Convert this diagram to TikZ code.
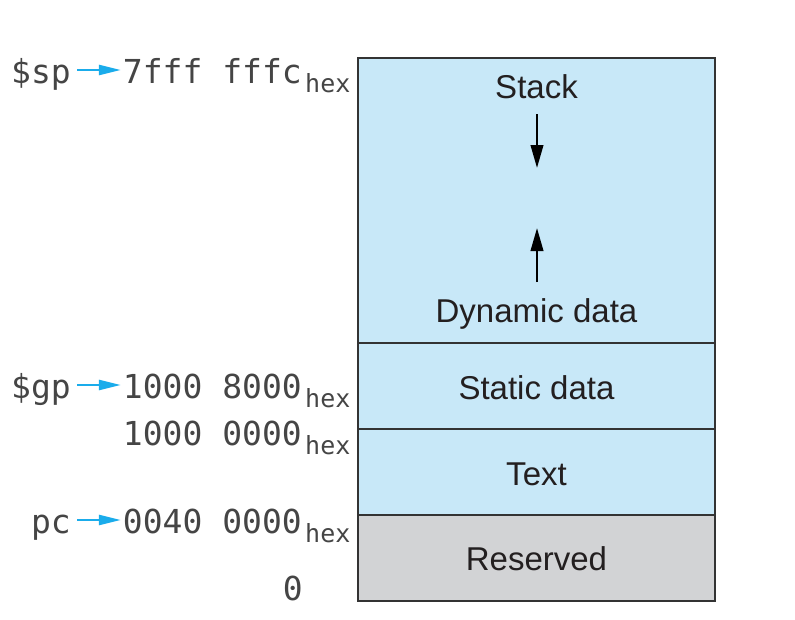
\documentclass[tikz,border=0pt]{standalone}
\usepackage{fontspec}
\setmainfont{Liberation Sans}
\newfontfamily\monof{DejaVu Sans Mono}
\usetikzlibrary{arrows.meta}
\definecolor{membl}{HTML}{C8E8F8}
\definecolor{memgr}{HTML}{D2D3D5}
\definecolor{edge}{HTML}{333333}
\definecolor{lbl}{HTML}{454545}
\definecolor{cyanar}{HTML}{1AACEB}
\definecolor{boxtxt}{HTML}{231F20}
\tikzset{
  region/.style={draw=edge, line width=1.8pt, inner sep=0pt, outer sep=0pt, anchor=north west, minimum width=357pt},
  boxlbl/.style={font=\fontsize{33}{36}\selectfont, text=boxtxt, inner sep=0pt, anchor=base},
  addr/.style={font=\monof\fontsize{33}{36}\selectfont, text=lbl, inner sep=0pt, anchor=base east},
  hexsub/.style={font=\monof\fontsize{25}{28}\selectfont, text=lbl, inner sep=0pt, anchor=base west},
  regname/.style={font=\monof\fontsize{33}{36}\selectfont, text=lbl, inner sep=0pt, anchor=base east},
  ptrarrow/.style={draw=cyanar, line width=2.5pt, -{Triangle[length=22pt,width=10pt]}},
  growarrow/.style={draw=black, line width=2.4pt, -{Triangle[length=23pt,width=12.5pt]}}
}
\begin{document}
\begin{tikzpicture}[x=1pt,y=-1pt]
\useasboundingbox (0,0) rectangle (795,619);
% memory regions
\node (stackreg) [region, fill=membl, minimum height=285pt] at (358,58) {};
\node (statreg)  [region, fill=membl, minimum height=86pt] at (358,343) {};
\node (textreg)  [region, fill=membl, minimum height=86pt] at (358,429) {};
\node (resreg)   [region, fill=memgr, minimum height=86pt] at (358,515) {};
% region labels
\node (stacklbl) [boxlbl] at (536.5,98) {Stack};
\node (dynlbl)   [boxlbl] at (536.5,322) {Dynamic data};
\node (statlbl)  [boxlbl] at (536.5,399) {Static data};
\node (textlbl)  [boxlbl] at (536.5,485) {Text};
\node (reslbl)   [boxlbl] at (536.5,570) {Reserved};
% growth arrows
\coordinate (d1) at (537,114);
\coordinate (d2) at (537,168);
\coordinate (u1) at (537,282);
\coordinate (u2) at (537,228);
\draw[growarrow] (d1) -- (d2);
\draw[growarrow] (u1) -- (u2);
% addresses
\node (spv)  [addr] at (302,83)  {7fff fffc};
\node (spx)  [hexsub] at (305,92) {hex};
\node (gpv)  [addr] at (302,398) {1000 8000};
\node (gpx)  [hexsub] at (305,407) {hex};
\node (txv)  [addr] at (302,445) {1000 0000};
\node (txx)  [hexsub] at (305,454) {hex};
\node (pcv)  [addr] at (302,533) {0040 0000};
\node (pcx)  [hexsub] at (305,542) {hex};
\node (zero) [addr] at (303,600) {0};
% registers
\node (sp) [regname] at (71,83)  {\$sp};
\node (gp) [regname] at (71,398) {\$gp};
\node (pc) [regname] at (71,533) {pc};
% pointer arrows
\draw[ptrarrow] ([xshift=6pt,yshift=13pt]sp.base east) -- ([xshift=-2pt,yshift=13pt]spv.base west);
\draw[ptrarrow] ([xshift=6pt,yshift=13pt]gp.base east) -- ([xshift=-2pt,yshift=13pt]gpv.base west);
\draw[ptrarrow] ([xshift=6pt,yshift=13pt]pc.base east) -- ([xshift=-2pt,yshift=13pt]pcv.base west);
\end{tikzpicture}
\end{document}
